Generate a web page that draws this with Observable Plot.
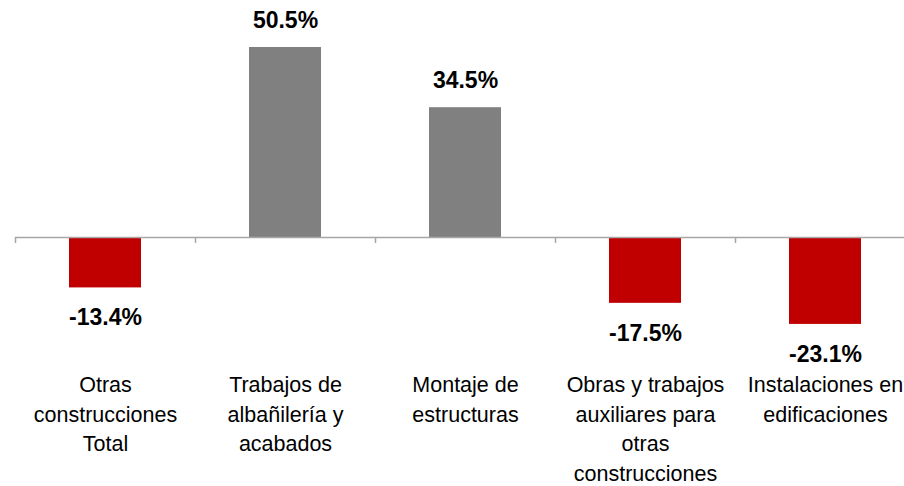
<!DOCTYPE html>
<html>
<head>
<meta charset="utf-8">
<script src="https://cdn.jsdelivr.net/npm/d3@7"></script>
<script src="https://cdn.jsdelivr.net/npm/@observablehq/plot@0.6"></script>
<style>
  html, body { margin: 0; padding: 0; background: #fff; }
  #chart { width: 904px; height: 486px; overflow: hidden; }
</style>
</head>
<body>
<div id="chart"></div>
<script>
const categories = [
  "Otras\nconstrucciones\nTotal",
  "Trabajos de\nalbañilería y\nacabados",
  "Montaje de\nestructuras",
  "Obras y trabajos\nauxiliares para\notras\nconstrucciones",
  "Instalaciones en\nedificaciones"
];
const values = [-13.4, 50.5, 34.5, -17.5, -23.1];

const rows = categories.map((c, i) => ({category: c, value: values[i]}));
const FONT = "'Liberation Sans', Arial, sans-serif";

const chart = Plot.plot({
  width: 904,
  height: 486,
  marginLeft: 15,
  marginRight: 0,
  marginTop: 0,
  marginBottom: 115,
  style: {fontFamily: FONT, background: "#fff"},
  x: {domain: categories, range: [15, 915], paddingInner: 0.6, paddingOuter: 0.3, align: 0.5, axis: null},
  y: {domain: [0, 50.5], range: [237, 47], axis: null},
  marks: [
    Plot.barY(rows, {x: "category", y: "value", fill: d => d.value < 0 ? "#C00000" : "#808080"}),
    Plot.ruleY([0], {stroke: "#A6A6A6", strokeWidth: 1.5}),
    Plot.ruleX(categories, {x: d => d, y1: 0, y2: 0, dx: -90, insetBottom: -6, stroke: "#A6A6A6", strokeWidth: 1.5}),
    Plot.text(rows.filter(d => d.value >= 0), {x: "category", y: "value", text: d => d.value.toFixed(1) + "%", dy: -27, fontSize: 23, fontWeight: "bold", fill: "#000"}),
    Plot.text(rows.filter(d => d.value < 0), {x: "category", y: "value", text: d => d.value.toFixed(1) + "%", dy: 30, fontSize: 23, fontWeight: "bold", fill: "#000"}),
    Plot.axisX({anchor: "bottom", tickSize: 0, tickPadding: 0, fontSize: 21.5, lineHeight: 1.37, fill: "#000", label: null})
  ]
});
document.getElementById("chart").appendChild(chart);
</script>
</body>
</html>
